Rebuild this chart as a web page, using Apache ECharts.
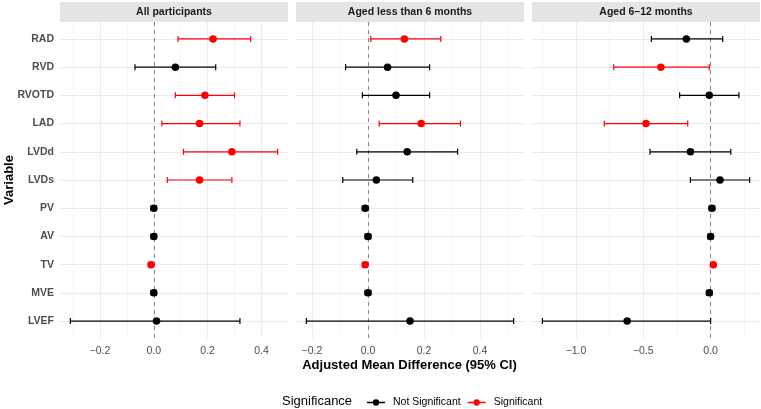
<!DOCTYPE html>
<html>
<head>
<meta charset="utf-8">
<script src="https://cdn.jsdelivr.net/npm/echarts@6/dist/echarts.min.js"></script>
<style>
html, body { margin: 0; padding: 0; background: #fff; }
#forest { width: 761px; height: 409px; }
</style>
</head>
<body>
<div id="forest"></div>
<script>
// variables, top to bottom
var variables = ['RAD', 'RVD', 'RVOTD', 'LAD', 'LVDd', 'LVDs', 'PV', 'AV', 'TV', 'MVE', 'LVEF'];
var panelTitles = ['All participants', 'Aged less than 6 months', 'Aged 6\u201312 months'];

// All participants
var est1 = [0.22, 0.08, 0.19, 0.17, 0.29, 0.17, 0.00, 0.00, -0.01, 0.00, 0.01];
var lo1  = [0.09, -0.07, 0.08, 0.03, 0.11, 0.05, -0.01, -0.01, -0.02, -0.01, -0.31];
var hi1  = [0.36, 0.23, 0.30, 0.32, 0.46, 0.29, 0.01, 0.01, -0.002, 0.01, 0.32];
var sig1 = [1, 0, 1, 1, 1, 1, 0, 0, 1, 0, 0];

// Aged less than 6 months
var est2 = [0.13, 0.07, 0.10, 0.19, 0.14, 0.03, -0.01, 0.00, -0.01, 0.00, 0.15];
var lo2  = [0.01, -0.08, -0.02, 0.04, -0.04, -0.09, -0.02, -0.01, -0.02, -0.01, -0.22];
var hi2  = [0.26, 0.22, 0.22, 0.33, 0.32, 0.16, 0.00, 0.01, -0.002, 0.01, 0.52];
var sig2 = [1, 0, 0, 1, 0, 0, 0, 0, 1, 0, 0];

// Aged 6-12 months
var est3 = [-0.18, -0.37, -0.01, -0.48, -0.15, 0.07, 0.01, 0.00, 0.02, -0.01, -0.62];
var lo3  = [-0.44, -0.72, -0.23, -0.79, -0.45, -0.15, -0.01, -0.02, 0.005, -0.03, -1.25];
var hi3  = [0.09, -0.01, 0.21, -0.17, 0.15, 0.29, 0.03, 0.02, 0.035, 0.01, 0.00];
var sig3 = [0, 1, 0, 1, 0, 0, 0, 0, 1, 0, 0];

// x tick labels
var ticks1 = [-0.2, 0.0, 0.2, 0.4];
var ticks2 = [-0.2, 0.0, 0.2, 0.4];
var ticks3 = [-1.0, -0.5, 0.0];

var sigNames = ['Not Significant', 'Significant'];
var sigColors = ['#000000', '#ff0000'];

var panels = [
	{ est: est1, lo: lo1, hi: hi1, sig: sig1, ticks: ticks1 },
	{ est: est2, lo: lo2, hi: hi2, sig: sig2, ticks: ticks2 },
	{ est: est3, lo: lo3, hi: hi3, sig: sig3, ticks: ticks3 }
];

var gridLeft = [60, 296, 532];
var gridWidth = 228;
var gridTop = 22;
var gridHeight = 316;
var fontFam = '"Liberation Sans", Arial, sans-serif';

function fmtTick(v) {
	return (v < 0 ? '\u2212' : '') + Math.abs(v).toFixed(1);
}

function renderBar(params, api) {
	var y = api.value(2);
	var p1 = api.coord([api.value(0), y]);
	var p2 = api.coord([api.value(1), y]);
	var style = { stroke: api.visual('color'), lineWidth: 1.2 };
	return {
		type: 'group',
		children: [
			{ type: 'line', shape: { x1: p1[0], y1: p1[1], x2: p2[0], y2: p2[1] }, style: style },
			{ type: 'line', shape: { x1: p1[0], y1: p1[1] - 3, x2: p1[0], y2: p1[1] + 3 }, style: style },
			{ type: 'line', shape: { x1: p2[0], y1: p2[1] - 3, x2: p2[0], y2: p2[1] + 3 }, style: style }
		]
	};
}

var grids = [], xAxes = [], yAxes = [], series = [], graphics = [];

panels.forEach(function (p, k) {
	var mn = Math.min.apply(null, p.lo);
	var mx = Math.max.apply(null, p.hi);
	var pad = (mx - mn) * 0.05;
	var xmin = mn - pad, xmax = mx + pad;

	grids.push({ left: gridLeft[k], top: gridTop, width: gridWidth, height: gridHeight });
	xAxes.push({
		type: 'value', gridIndex: k, min: xmin, max: xmax,
		axisLine: { show: false }, axisTick: { show: false }, splitLine: { show: false },
		axisLabel: {
			customValues: p.ticks, formatter: fmtTick, margin: 8,
			color: '#4d4d4d', fontSize: 10.5, fontFamily: fontFam
		}
	});
	yAxes.push({
		type: 'value', gridIndex: k, min: -0.6, max: 10.6, inverse: true,
		axisLine: { show: false }, axisTick: { show: false }, splitLine: { show: false },
		axisLabel: {
			show: k === 0,
			customValues: variables.map(function (v, i) { return i; }),
			formatter: function (v) { return variables[v]; },
			margin: 6, color: '#4d4d4d', fontSize: 10.5, fontWeight: 'bold', fontFamily: fontFam
		}
	});

	// grid lines
	var step = p.ticks[1] - p.ticks[0];
	var lines = [];
	for (var m = p.ticks[0] - step * 1.5; m < xmax; m += step / 2) {
		if (m <= xmin || m >= xmax - (xmax - xmin) * 0.01) continue;
		var isMajor = p.ticks.some(function (t) { return Math.abs(t - m) < 1e-6; });
		lines.push({ xAxis: m, lineStyle: { color: isMajor ? '#ebebeb' : '#f3f3f3', width: isMajor ? 1 : 0.8, type: 'solid' } });
	}
	variables.forEach(function (v, i) {
		lines.push({ yAxis: i, lineStyle: { color: '#ebebeb', width: 1, type: 'solid' } });
	});
	series.push({
		type: 'scatter', xAxisIndex: k, yAxisIndex: k, data: [], z: 1, silent: true,
		markLine: { z: 1, silent: true, symbol: ['none', 'none'], label: { show: false }, animation: false, data: lines }
	});
	series.push({
		type: 'scatter', xAxisIndex: k, yAxisIndex: k, data: [], z: 2, silent: true,
		markLine: {
			z: 2, silent: true, symbol: ['none', 'none'], label: { show: false }, animation: false,
			data: [{ xAxis: 0 }],
			lineStyle: { color: '#8a8a8a', width: 1.1, type: [4, 4] }
		}
	});

	[0, 1].forEach(function (s) {
		var bars = [], pts = [];
		variables.forEach(function (v, i) {
			if (p.sig[i] === s) {
				bars.push([p.lo[i], p.hi[i], i]);
				pts.push([p.est[i], i]);
			}
		});
		series.push({
			name: sigNames[s], type: 'custom', xAxisIndex: k, yAxisIndex: k, z: 3,
			renderItem: renderBar, encode: { x: [0, 1], y: 2 },
			itemStyle: { color: sigColors[s] }, data: bars, animation: false
		});
		series.push({
			name: sigNames[s], type: 'scatter', xAxisIndex: k, yAxisIndex: k, z: 4,
			symbolSize: 7.5, itemStyle: { color: sigColors[s], opacity: 1 },
			data: pts, animation: false
		});
	});

	// facet strip
	graphics.push({
		type: 'rect', left: gridLeft[k], top: 2,
		shape: { width: gridWidth, height: 20 }, style: { fill: '#e5e5e5' }
	});
	graphics.push({
		type: 'text', x: gridLeft[k] + gridWidth / 2, y: 12,
		style: { text: panelTitles[k], fill: '#1a1a1a', font: 'bold 10.5px ' + fontFam, textAlign: 'center', textVerticalAlign: 'middle' }
	});
});

graphics.push({
	type: 'text', x: 409.5, y: 365,
	style: { text: 'Adjusted Mean Difference (95% CI)', fill: '#000', font: 'bold 13px ' + fontFam, textAlign: 'center', textVerticalAlign: 'middle' }
});
graphics.push({
	type: 'text', x: 9, y: 180, rotation: Math.PI / 2,
	style: { text: 'Variable', fill: '#000', font: 'bold 13px ' + fontFam, textAlign: 'center', textVerticalAlign: 'middle' }
});
graphics.push({
	type: 'text', x: 282, y: 401,
	style: { text: 'Significance', fill: '#000', font: '13px ' + fontFam, textAlign: 'left', textVerticalAlign: 'middle' }
});

var keyIcon = 'path://M0,4.3H6.6V5.7H0Z M13.4,4.3H20V5.7H13.4Z M6.5,5A3.5,3.5 0 1 1 13.5,5A3.5,3.5 0 1 1 6.5,5Z';

var option = {
	animation: false,
	grid: grids,
	xAxis: xAxes,
	yAxis: yAxes,
	legend: {
		left: 362, top: 392, itemWidth: 18, itemHeight: 8, itemGap: 7,
		selectedMode: false,
		data: [{ name: sigNames[0], icon: keyIcon }, { name: sigNames[1], icon: keyIcon }],
		textStyle: { fontSize: 10.5, color: '#000', fontFamily: fontFam, padding: [0, 0, 0, 3] }
	},
	graphic: graphics,
	series: series
};

var chart = echarts.init(document.getElementById('forest'));
chart.setOption(option);
</script>
</body>
</html>
